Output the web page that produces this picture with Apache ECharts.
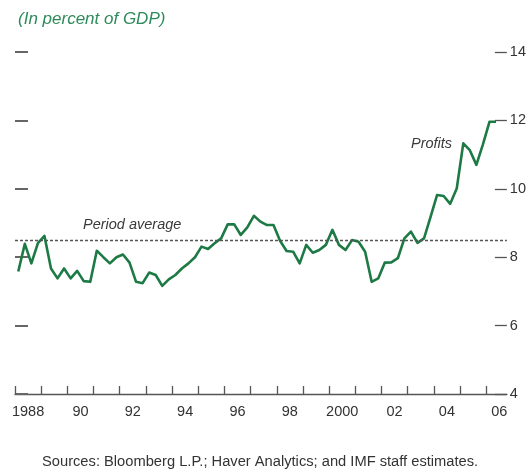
<!DOCTYPE html>
<html>
<head>
<meta charset="utf-8">
<script src="https://cdn.jsdelivr.net/npm/echarts@6/dist/echarts.min.js"></script>
<style>
html,body{margin:0;padding:0;background:#fff;}
#chart{width:529px;height:472px;}
</style>
</head>
<body>
<div id="chart"></div>
<script>
// Quarterly profits, in percent of GDP, 1988Q1 - 2006Q2
var startYear = 1988;
var profits = [
  7.58, 8.39, 7.82, 8.41,
  8.62, 7.67, 7.38, 7.67,
  7.38, 7.60, 7.30, 7.28,
  8.19, 8.00, 7.82, 8.00,
  8.08, 7.84, 7.28, 7.24,
  7.55, 7.48, 7.16, 7.35,
  7.48, 7.67, 7.82, 8.00,
  8.31, 8.24, 8.41, 8.55,
  8.96, 8.96, 8.65, 8.87,
  9.21, 9.04, 8.94, 8.94,
  8.48, 8.18, 8.16, 7.82,
  8.36, 8.13, 8.21, 8.36,
  8.80, 8.36, 8.21, 8.50,
  8.45, 8.16, 7.28, 7.38,
  7.84, 7.85, 7.97, 8.55,
  8.75, 8.42, 8.55, 9.18,
  9.82, 9.79, 9.56, 10.01,
  11.33, 11.13, 10.70, 11.30,
  11.96, 11.96
];
var periodAverage = [8.5];
var yearTicks = [1988,1989,1990,1991,1992,1993,1994,1995,1996,1997,1998,1999,2000,2001,2002,2003,2004,2005,2006];
var yearLabelYears = [1988,1990,1992,1994,1996,1998,2000,2002,2004,2006];
var yearLabels = ['1988','90','92','94','96','98','2000','02','04','06'];
var yTicks = [4,6,8,10,12,14];

// quarter categories -> positions at mid-quarter
var quarters = [];
for (var i = 0; i < profits.length; i++) {
  var yr = startYear + Math.floor(i / 4);
  var q = (i % 4) + 1;
  quarters.push({label: yr + 'Q' + q, pos: yr + (q - 0.5) / 4});
}
var seriesData = quarters.map(function (c, i) { return [c.pos, profits[i]]; });

var FONT = "'Liberation Sans Narrow', 'Liberation Sans', Arial, sans-serif";
var chart = echarts.init(document.getElementById('chart'), null, {renderer: 'canvas'});
chart.setOption({
  animation: false,
  backgroundColor: '#fff',
  title: {
    text: '(In percent of GDP)',
    left: 13, top: 6,
    textStyle: {fontFamily: FONT, fontStyle: 'italic', fontWeight: 'normal', fontSize: 17, color: '#2e8a5a'}
  },
  grid: {left: 15, right: 19, top: 52, bottom: 78, containLabel: false},
  xAxis: {
    type: 'value', min: 1988, max: 2006.79,
    axisLine: {show: true, lineStyle: {color: '#555', width: 1.3}},
    axisTick: {show: true, inside: true, length: 8, customValues: yearTicks, lineStyle: {color: '#555', width: 1.3}},
    axisLabel: {
      show: true, margin: 10,
      customValues: yearLabelYears.map(function (y) { return y + 0.5; }),
      formatter: function (v) {
        var idx = yearLabelYears.indexOf(Math.round(v - 0.5));
        return idx >= 0 ? yearLabels[idx] : '';
      },
      fontFamily: FONT, fontSize: 14.5, color: '#333'
    },
    splitLine: {show: false}
  },
  yAxis: [
    {
      type: 'value', position: 'left', min: 4, max: 14, interval: 2,
      axisLine: {show: false},
      axisTick: {show: true, inside: true, length: 13, lineStyle: {color: '#666', width: 2}},
      axisLabel: {show: false},
      splitLine: {show: false}
    },
    {
      type: 'value', position: 'right', min: 4, max: 14, interval: 2,
      axisLine: {show: false},
      axisTick: {show: true, inside: true, length: 12, lineStyle: {color: '#555', width: 1.3}},
      axisLabel: {show: true, margin: 3, fontFamily: FONT, fontSize: 14.5, color: '#333'},
      splitLine: {show: false}
    }
  ],
  series: [{
    type: 'line',
    yAxisIndex: 1,
    data: seriesData,
    showSymbol: false,
    symbol: 'none',
    lineStyle: {color: '#1d7a45', width: 2.6, join: 'round'},
    markLine: {
      silent: true, symbol: 'none',
      label: {show: false},
      lineStyle: {color: '#555', type: [3, 2], width: 1.4},
      data: [{yAxis: periodAverage[0]}]
    },
    z: 3
  }],
  graphic: [
    {type: 'text', left: 83, top: 217, style: {text: 'Period average', font: 'italic 14.5px ' + FONT, fill: '#3a3a3a'}},
    {type: 'text', left: 411, top: 136, style: {text: 'Profits', font: 'italic 14.5px ' + FONT, fill: '#3a3a3a'}},
    {type: 'text', left: 42, top: 454, style: {text: 'Sources: Bloomberg L.P.; Haver Analytics; and IMF staff estimates.', font: '14.7px ' + FONT, fill: '#333'}}
  ]
});
</script>
</body>
</html>
